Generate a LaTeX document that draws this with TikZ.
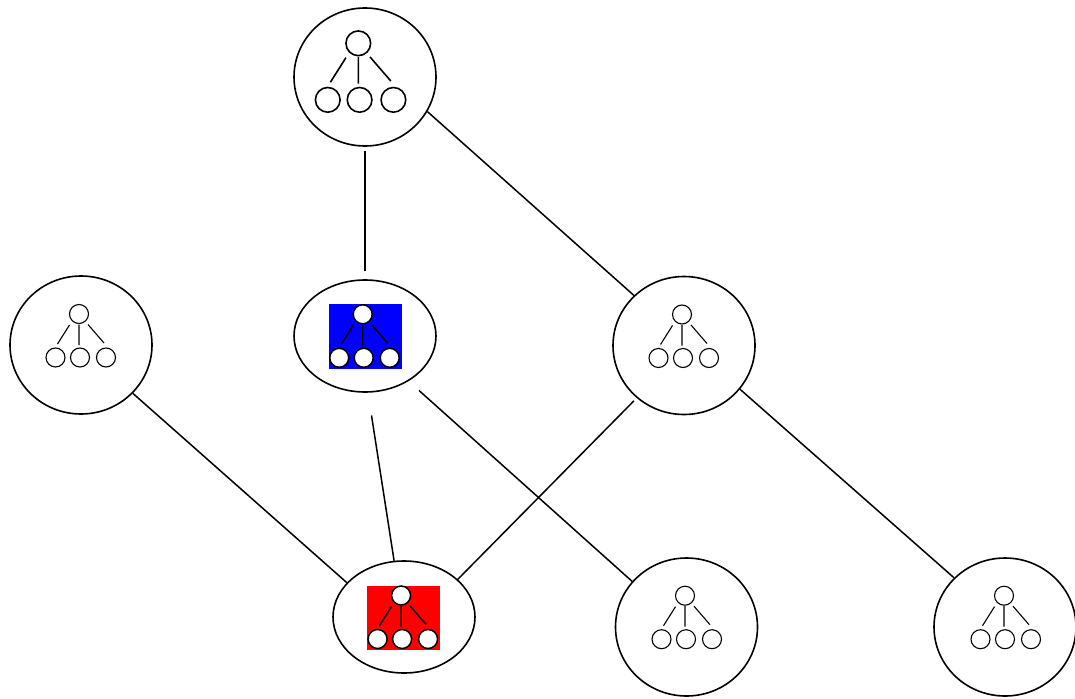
\documentclass[tikz,border=0pt]{standalone}
\usetikzlibrary{shapes.geometric}

\tikzset{
	group/.style={ellipse, draw, line width=1.6pt, inner sep=0pt, minimum width=142pt, minimum height=138pt},
	team/.style={group, minimum height=112pt},
	orgchart/.pic={
		\draw[fill=white] (0,0) circle[radius=9.5pt]
			(-23.5,43.5) circle[radius=9.5pt]
			(1,43.5) circle[radius=9.5pt]
			(27,43.5) circle[radius=9.5pt];
		\draw (-9.5,11) -- (-21.5,30)
			(0,10.5) -- (0,31)
			(9,10.5) -- (25,29);
	},
	orgbox/.pic={
		\fill[#1] (-34,-10) rectangle (39,54.5);
		\pic {orgchart};
	}
}

\begin{document}
\begin{tikzpicture}[x=1pt, y=-1pt]
			\useasboundingbox (0,0) rectangle (1075,698);
			
			\node[group] (g0) at (365,77) {};
			\node[group] (g1) at (81,345) {};
			\node[team] (g2) at (365,336) {};
			\node[group] (g3) at (684,345.5) {};
			\node[team] (g4) at (404,617) {};
			\node[group] (g5) at (686.5,627) {};
			\node[group] (g6) at (1005,627) {};
			
			\pic[scale=1.3, line width=1.6pt] at ([shift={(-6.7,-33.7)}]g0.center) {orgchart};
			\pic[line width=1.1pt] at ([shift={(-2,-31)}]g1.center) {orgchart};
			\pic[line width=1.5pt] at ([shift={(-2.3,-21.7)}]g2.center) {orgbox=blue};
			\pic[line width=1.1pt] at ([shift={(-2,-31)}]g3.center) {orgchart};
			\pic[line width=1.5pt] at ([shift={(-2.9,-21.5)}]g4.center) {orgbox=red};
			\pic[line width=1.1pt] at ([shift={(-1.5,-31.3)}]g5.center) {orgchart};
			\pic[line width=1.1pt] at ([shift={(-1,-31.3)}]g6.center) {orgchart};
			
			\path[draw, line width=1.5pt]
			(g0.-90) edge [shorten <=4pt, shorten >=8pt] (g2.90)
			(g0.-29.4) edge (g3.135)
			(g1.-43) edge (g4.149)
			(g2.-87.5) edge [shorten <=23pt] (g4.100)
			(g2.-46) edge [shorten <=14pt] (g5.140)
			(g3.-132) edge [shorten <=4pt] (g4.35.5)
			(g3.-38.5) edge (g6.136);
			
		\end{tikzpicture}
\end{document}
